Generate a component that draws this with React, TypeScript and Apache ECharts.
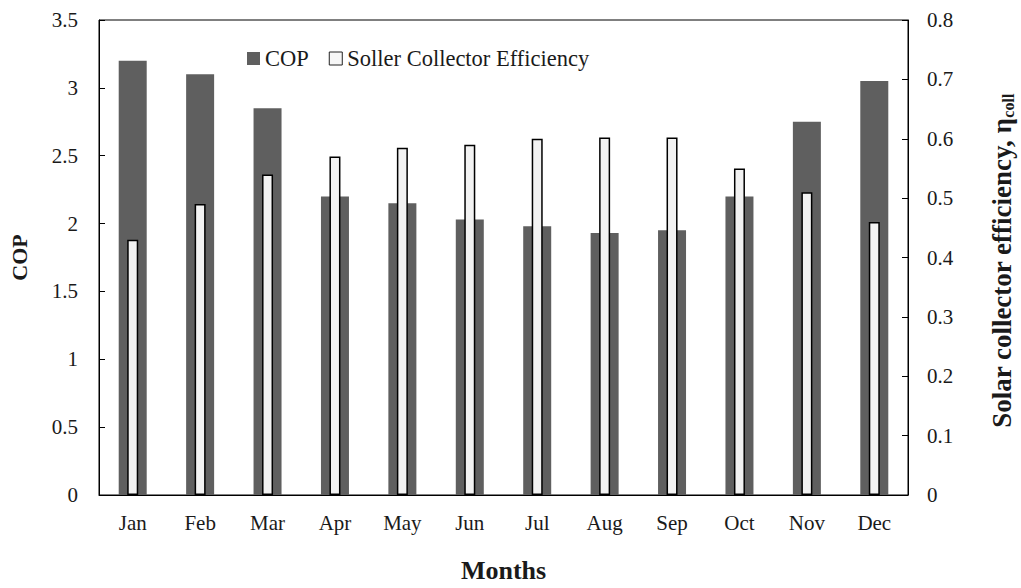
import React, { useEffect, useRef } from "react";
import * as echarts from "echarts";

const months = ["Jan", "Feb", "Mar", "Apr", "May", "Jun", "Jul", "Aug", "Sep", "Oct", "Nov", "Dec"];
const copValues = [3.2, 3.1, 2.85, 2.2, 2.15, 2.03, 1.98, 1.93, 1.95, 2.2, 2.75, 3.05];
const collectorEfficiency = [0.43, 0.49, 0.54, 0.57, 0.585, 0.59, 0.6, 0.602, 0.602, 0.55, 0.51, 0.46];

const FONT = "Liberation Serif";
const TEXT = "#1a1a1a";

export default function App() {
  const ref = useRef<HTMLDivElement>(null);

  useEffect(() => {
    if (!ref.current) return;
    const chart = echarts.init(ref.current, null, { renderer: "svg" });
    chart.setOption({
      animation: false,
      backgroundColor: "#ffffff",
      textStyle: { fontFamily: FONT, color: TEXT },
      grid: {
        left: 94,
        right: 113,
        top: 20,
        bottom: 76,
        show: true,
        borderColor: "#000",
        borderWidth: 1,
        backgroundColor: "transparent",
      },
      legend: {
        left: 242,
        top: 42,
        itemWidth: 13,
        itemHeight: 13,
        itemGap: 20,
        icon: "rect",
        textStyle: { fontFamily: FONT, fontSize: 22.5, color: TEXT },
        data: [
          { name: "COP", itemStyle: { color: "#5f5f5f", borderWidth: 0 } },
          {
            name: "Soller Collector Efficiency",
            itemStyle: { color: "#f7f7f7", borderColor: "#222", borderWidth: 1 },
          },
        ],
      },
      xAxis: [
        {
          type: "category",
          data: months,
          position: "bottom",
          axisLine: { show: true, lineStyle: { color: "#000", width: 1 } },
          axisTick: { show: false },
          axisLabel: { fontFamily: FONT, fontSize: 21, color: TEXT, margin: 17 },
          name: "Months",
          nameLocation: "middle",
          nameGap: 62,
          nameTextStyle: { fontFamily: FONT, fontSize: 26, fontWeight: "bold", color: TEXT },
          splitLine: { show: false },
        },
        {
          type: "category",
          data: months,
          show: false,
          position: "bottom",
        },
      ],
      yAxis: [
        {
          type: "value",
          min: 0,
          max: 3.5,
          interval: 0.5,
          position: "left",
          axisLine: { show: true, lineStyle: { color: "#000", width: 1 } },
          axisTick: { show: true, inside: true, length: 6, lineStyle: { color: "#000" } },
          axisLabel: {
            fontFamily: FONT,
            fontSize: 21,
            color: TEXT,
            margin: 21,
            formatter: (v: number) => String(Math.round(v * 10) / 10),
          },
          splitLine: { show: false },
          name: "COP",
          nameLocation: "middle",
          nameGap: 69,
          nameRotate: 90,
          nameTextStyle: { fontFamily: FONT, fontSize: 22, fontWeight: "bold", color: TEXT },
        },
        {
          type: "value",
          min: 0,
          max: 0.8,
          interval: 0.1,
          position: "right",
          axisLine: { show: true, lineStyle: { color: "#000", width: 1 } },
          axisTick: { show: true, inside: true, length: 6, lineStyle: { color: "#000" } },
          axisLabel: {
            fontFamily: FONT,
            fontSize: 21,
            color: TEXT,
            margin: 19,
            formatter: (v: number) => String(Math.round(v * 10) / 10),
          },
          splitLine: { show: false },
        },
      ],
      graphic: [
        {
          type: "text",
          x: 1002,
          y: 261,
          rotation: Math.PI / 2,
          style: {
            text: "{b|Solar collector efficiency, η}{s|coll}",
            align: "center",
            verticalAlign: "middle",
            fill: TEXT,
            rich: {
              b: { fontFamily: FONT, fontSize: 27, fontWeight: "bold", fill: TEXT, lineHeight: 30 },
              s: { fontFamily: FONT, fontSize: 16, fontWeight: "bold", fill: TEXT, padding: [13, 0, 0, 0] },
            },
          },
        },
      ],
      series: [
        {
          name: "COP",
          type: "bar",
          xAxisIndex: 0,
          yAxisIndex: 0,
          data: copValues,
          barWidth: 28,
          itemStyle: { color: "#5f5f5f" },
          z: 2,
        },
        {
          name: "Soller Collector Efficiency",
          type: "bar",
          xAxisIndex: 1,
          yAxisIndex: 1,
          data: collectorEfficiency,
          barWidth: 11,
          itemStyle: { color: "#f2f2f2", borderColor: "#000", borderWidth: 1.5 },
          z: 3,
        },
      ],
    });
    return () => chart.dispose();
  }, []);

  return (
    <div
      ref={ref}
      style={{ position: "fixed", left: 0, top: 0, width: 1021, height: 588 }}
    />
  );
}
